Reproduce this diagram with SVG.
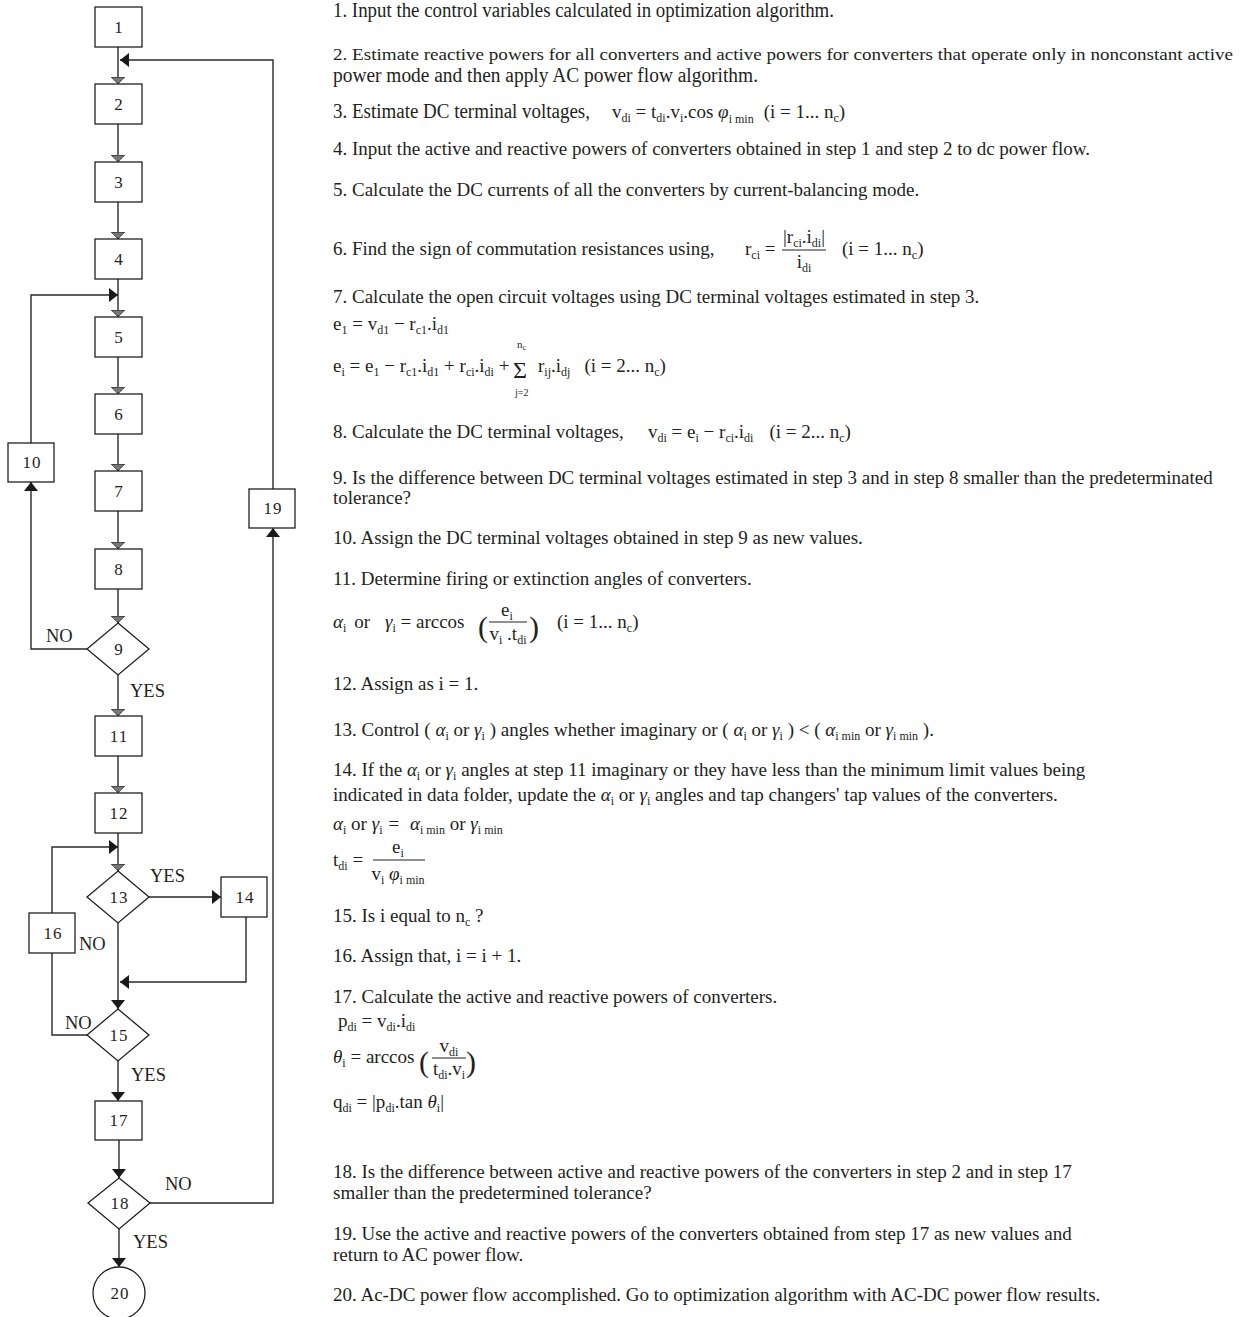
<svg xmlns="http://www.w3.org/2000/svg" width="1244" height="1317" viewBox="0 0 1244 1317">
<style>
.t{font-family:"Liberation Serif","Times New Roman",serif;font-size:19px;fill:#231f20}
.c{font-size:20px}
.s{font-size:12px}
.i{font-style:italic}
.lb{font-family:"Liberation Serif","Times New Roman",serif;font-size:18.5px;fill:#231f20}
.n{font-family:"Liberation Serif","Times New Roman",serif;font-size:17px;fill:#231f20;text-anchor:middle;letter-spacing:1px}
.box{fill:#fff;stroke:#231f20;stroke-width:1.3}
.ln{fill:none;stroke:#2a2a2a;stroke-width:1.4}
.bar{stroke:#231f20;stroke-width:1}
</style>
<defs>
<marker id="h" markerUnits="userSpaceOnUse" markerWidth="8" markerHeight="14" refX="7" refY="7" orient="auto">
<path d="M0,0 L7,7 L0,14 z" fill="#555" stroke="#333" stroke-width="0.6"/>
<path d="M2,2.5 V11.5 M4,4.5 V9.5" stroke="#bbb" stroke-width="0.7"/>
</marker>
<marker id="b" markerUnits="userSpaceOnUse" markerWidth="10" markerHeight="14" refX="9" refY="7" orient="auto">
<path d="M0,0 L9,7 L0,14 z" fill="#1a1a1a"/>
</marker>
</defs>
<rect width="1244" height="1317" fill="#fff"/>

<g id="connectors">
<path class="ln" d="M118,47 V84" marker-end="url(#h)"/>
<path class="ln" d="M273,489 V60 H120" marker-end="url(#b)"/>
<path class="ln" d="M118,124 V162" marker-end="url(#h)"/>
<path class="ln" d="M118,202 V239" marker-end="url(#h)"/>
<path class="ln" d="M118,279 V317" marker-end="url(#h)"/>
<path class="ln" d="M31,443 V295 H118" marker-end="url(#b)"/>
<path class="ln" d="M118,357 V394" marker-end="url(#h)"/>
<path class="ln" d="M118,434 V471" marker-end="url(#h)"/>
<path class="ln" d="M118,511 V549" marker-end="url(#h)"/>
<path class="ln" d="M118,589 V623" marker-end="url(#h)"/>
<path class="ln" d="M87,649 H31 V482" marker-end="url(#b)"/>
<path class="ln" d="M118,675 V716" marker-end="url(#h)"/>
<path class="ln" d="M118,756 V793" marker-end="url(#h)"/>
<path class="ln" d="M118,833 V871" marker-end="url(#h)"/>
<path class="ln" d="M52,913 V847 H118" marker-end="url(#b)"/>
<path class="ln" d="M149,897 H221" marker-end="url(#b)"/>
<path class="ln" d="M246,917 V982 H120" marker-end="url(#b)"/>
<path class="ln" d="M118,923 V1009" marker-end="url(#b)"/>
<path class="ln" d="M87,1035 H52 V953"/>
<path class="ln" d="M118,1061 V1101" marker-end="url(#b)"/>
<path class="ln" d="M119,1140 V1178" marker-end="url(#b)"/>
<path class="ln" d="M150,1203 H273 V528" marker-end="url(#b)"/>
<path class="ln" d="M119,1229 V1267" marker-end="url(#b)"/>
<text class="lb" x="46" y="642">NO</text>
<text class="lb" x="130" y="697">YES</text>
<text class="lb" x="150" y="882">YES</text>
<text class="lb" x="79" y="950">NO</text>
<text class="lb" x="65" y="1029">NO</text>
<text class="lb" x="131" y="1081">YES</text>
<text class="lb" x="165" y="1190">NO</text>
<text class="lb" x="133" y="1248">YES</text>
</g>

<g id="n1"><rect class="box" x="95" y="7" width="47" height="40"/><text class="n" x="119" y="33">1</text></g>
<g id="n2"><rect class="box" x="95" y="84" width="47" height="40"/><text class="n" x="119" y="110">2</text></g>
<g id="n3"><rect class="box" x="95" y="162" width="47" height="40"/><text class="n" x="119" y="188">3</text></g>
<g id="n4"><rect class="box" x="95" y="239" width="47" height="40"/><text class="n" x="119" y="265">4</text></g>
<g id="n5"><rect class="box" x="95" y="317" width="47" height="40"/><text class="n" x="119" y="343">5</text></g>
<g id="n6"><rect class="box" x="95" y="394" width="47" height="40"/><text class="n" x="119" y="420">6</text></g>
<g id="n7"><rect class="box" x="95" y="471" width="47" height="40"/><text class="n" x="119" y="497">7</text></g>
<g id="n8"><rect class="box" x="95" y="549" width="47" height="40"/><text class="n" x="119" y="575">8</text></g>
<g id="n9"><path class="box" d="M118,623 L149,649 L118,675 L87,649 Z"/><text class="n" x="119" y="655">9</text></g>
<g id="n10"><rect class="box" x="8" y="443" width="46" height="39"/><text class="n" x="32" y="468">10</text></g>
<g id="n11"><rect class="box" x="95" y="716" width="47" height="40"/><text class="n" x="119" y="742">11</text></g>
<g id="n12"><rect class="box" x="95" y="793" width="47" height="40"/><text class="n" x="119" y="819">12</text></g>
<g id="n13"><path class="box" d="M118,871 L149,897 L118,923 L87,897 Z"/><text class="n" x="119" y="903">13</text></g>
<g id="n14"><rect class="box" x="221" y="877" width="46" height="40"/><text class="n" x="245" y="903">14</text></g>
<g id="n15"><path class="box" d="M118,1009 L149,1035 L118,1061 L87,1035 Z"/><text class="n" x="119" y="1041">15</text></g>
<g id="n16"><rect class="box" x="29" y="913" width="46" height="40"/><text class="n" x="53" y="939">16</text></g>
<g id="n17"><rect class="box" x="95" y="1101" width="47" height="39"/><text class="n" x="119" y="1126">17</text></g>
<g id="n18"><path class="box" d="M119,1178 L150,1203 L119,1229 L88,1203 Z"/><text class="n" x="120" y="1209">18</text></g>
<g id="n19"><rect class="box" x="249" y="489" width="46" height="39"/><text class="n" x="273" y="514">19</text></g>
<g id="n20"><circle class="box" cx="119" cy="1293" r="26"/><text class="n" x="120" y="1299">20</text></g>

<g id="steps">
<text class="t c" x="333" y="17" textLength="501" lengthAdjust="spacingAndGlyphs">1. Input the control variables calculated in optimization algorithm.</text>
<text class="t" x="333" y="60" style="font-size:17.5px" textLength="900" lengthAdjust="spacingAndGlyphs">2. Estimate reactive powers for all converters and active powers for converters that  operate only in nonconstant active</text>
<text class="t c" x="333" y="82" textLength="425" lengthAdjust="spacingAndGlyphs">power mode and then apply AC power flow algorithm.</text>
<text class="t c" x="333" y="118" textLength="257" lengthAdjust="spacingAndGlyphs">3. Estimate DC terminal voltages,</text>
<text class="t" x="612" y="118">v<tspan class="s" dy="4">di</tspan><tspan dy="-4"> = t</tspan><tspan class="s" dy="4">di</tspan><tspan dy="-4">.v</tspan><tspan class="s" dy="4">i</tspan><tspan dy="-4">.cos </tspan><tspan class="i">φ</tspan><tspan class="s" dy="5">i min</tspan><tspan dy="-5" dx="10">(i = 1... n</tspan><tspan class="s" dy="4">c</tspan><tspan dy="-4">)</tspan></text>

<text class="t" x="333" y="155">4. Input the active and reactive powers of converters obtained in step 1 and step 2 to dc power flow.</text>
<text class="t" x="333" y="196">5. Calculate the DC currents of all the converters by current-balancing mode.</text>

<text class="t" x="333" y="255">6. Find the sign of commutation resistances using,</text>
<text class="t" x="745" y="255">r<tspan class="s" dy="4">ci</tspan><tspan dy="-4"> =</tspan></text>
<text class="t" x="804" y="243" text-anchor="middle">|r<tspan class="s" dy="4">ci</tspan><tspan dy="-4">.i</tspan><tspan class="s" dy="4">di</tspan><tspan dy="-4">|</tspan></text>
<line class="bar" x1="782" y1="250" x2="826" y2="250"/>
<text class="t" x="804" y="268" text-anchor="middle">i<tspan class="s" dy="4">di</tspan></text>
<text class="t" x="842" y="255">(i = 1... n<tspan class="s" dy="4">c</tspan><tspan dy="-4">)</tspan></text>

<text class="t" x="333" y="303">7. Calculate the open circuit voltages using DC  terminal voltages estimated in step 3.</text>
<text class="t" x="333" y="330">e<tspan class="s" dy="4">1</tspan><tspan dy="-4"> = v</tspan><tspan class="s" dy="4">d1</tspan><tspan dy="-4"> − r</tspan><tspan class="s" dy="4">c1</tspan><tspan dy="-4">.i</tspan><tspan class="s" dy="4">d1</tspan></text>
<text class="t" x="333" y="372">e<tspan class="s" dy="4">i</tspan><tspan dy="-4"> = e</tspan><tspan class="s" dy="4">1</tspan><tspan dy="-4"> − r</tspan><tspan class="s" dy="4">c1</tspan><tspan dy="-4">.i</tspan><tspan class="s" dy="4">d1</tspan><tspan dy="-4"> + r</tspan><tspan class="s" dy="4">ci</tspan><tspan dy="-4">.i</tspan><tspan class="s" dy="4">di</tspan><tspan dy="-4"> +</tspan></text>
<text class="t" x="513" y="378" style="font-size:24px">Σ</text>
<text class="t" x="517" y="348" style="font-size:11px">n<tspan dy="2" style="font-size:8px">c</tspan></text>
<text class="t" x="515" y="396" style="font-size:10px">j=2</text>
<text class="t" x="538" y="372">r<tspan class="s" dy="4">ij</tspan><tspan dy="-4">.i</tspan><tspan class="s" dy="4">dj</tspan><tspan dy="-4" dx="14">(i = 2... n</tspan><tspan class="s" dy="4">c</tspan><tspan dy="-4">)</tspan></text>

<text class="t" x="333" y="438">8. Calculate the DC  terminal voltages,</text>
<text class="t" x="648" y="438">v<tspan class="s" dy="4">di</tspan><tspan dy="-4"> = e</tspan><tspan class="s" dy="4">i</tspan><tspan dy="-4"> − r</tspan><tspan class="s" dy="4">ci</tspan><tspan dy="-4">.i</tspan><tspan class="s" dy="4">di</tspan><tspan dy="-4" dx="16">(i = 2... n</tspan><tspan class="s" dy="4">c</tspan><tspan dy="-4">)</tspan></text>

<text class="t" x="333" y="484">9. Is the difference between DC  terminal voltages estimated in step 3 and in step 8 smaller than the predeterminated</text>
<text class="t" x="333" y="504">tolerance?</text>
<text class="t" x="333" y="544">10. Assign the DC  terminal voltages obtained in step 9 as new values.</text>
<text class="t" x="333" y="585">11. Determine firing or extinction angles of converters.</text>

<text class="t" x="333" y="628"><tspan class="i">α</tspan><tspan class="s" dy="4">i</tspan><tspan dy="-4" dx="8">or </tspan><tspan class="i" dx="10">γ</tspan><tspan class="s" dy="4">i</tspan><tspan dy="-4"> = arccos</tspan></text>
<text class="t" x="478" y="637" style="font-size:30px">(</text>
<text class="t" x="507" y="616" text-anchor="middle">e<tspan class="s" dy="4">i</tspan></text>
<line class="bar" x1="489" y1="622" x2="527" y2="622"/>
<text class="t" x="508" y="640" text-anchor="middle">v<tspan class="s" dy="4">i</tspan><tspan dy="-4"> .t</tspan><tspan class="s" dy="4">di</tspan></text>
<text class="t" x="529" y="637" style="font-size:30px">)</text>
<text class="t" x="557" y="628">(i = 1... n<tspan class="s" dy="4">c</tspan><tspan dy="-4">)</tspan></text>

<text class="t" x="333" y="690">12. Assign as  i = 1.</text>

<text class="t" x="333" y="736">13. Control ( <tspan class="i">α</tspan><tspan class="s" dy="4">i</tspan><tspan dy="-4"> or </tspan><tspan class="i">γ</tspan><tspan class="s" dy="4">i</tspan><tspan dy="-4"> )  angles whether imaginary  or ( </tspan><tspan class="i">α</tspan><tspan class="s" dy="4">i</tspan><tspan dy="-4"> or </tspan><tspan class="i">γ</tspan><tspan class="s" dy="4">i</tspan><tspan dy="-4"> ) &lt; ( </tspan><tspan class="i">α</tspan><tspan class="s" dy="4">i min</tspan><tspan dy="-4"> or </tspan><tspan class="i">γ</tspan><tspan class="s" dy="4">i min</tspan><tspan dy="-4"> ).</tspan></text>
<text class="t" x="333" y="776">14. If the <tspan class="i">α</tspan><tspan class="s" dy="4">i</tspan><tspan dy="-4"> or </tspan><tspan class="i">γ</tspan><tspan class="s" dy="4">i</tspan><tspan dy="-4"> angles at step 11 imaginary or they have less than the minimum limit values being</tspan></text>
<text class="t" x="333" y="801">indicated in data folder, update the <tspan class="i">α</tspan><tspan class="s" dy="4">i</tspan><tspan dy="-4"> or </tspan><tspan class="i">γ</tspan><tspan class="s" dy="4">i</tspan><tspan dy="-4"> angles and tap changers' tap values of the converters.</tspan></text>
<text class="t" x="333" y="830"><tspan class="i">α</tspan><tspan class="s" dy="4">i</tspan><tspan dy="-4"> or </tspan><tspan class="i">γ</tspan><tspan class="s" dy="4">i</tspan><tspan dy="-4" dx="6">= </tspan><tspan class="i" dx="6">α</tspan><tspan class="s" dy="4">i min</tspan><tspan dy="-4"> or </tspan><tspan class="i">γ</tspan><tspan class="s" dy="4">i min</tspan></text>
<text class="t" x="333" y="866">t<tspan class="s" dy="4">di</tspan><tspan dy="-4"> =</tspan></text>
<text class="t" x="398" y="853" text-anchor="middle">e<tspan class="s" dy="4">i</tspan></text>
<line class="bar" x1="373" y1="860" x2="425" y2="860"/>
<text class="t" x="398" y="880" text-anchor="middle">v<tspan class="s" dy="4">i</tspan><tspan dy="-4" class="i"> φ</tspan><tspan class="s" dy="4">i min</tspan></text>

<text class="t" x="333" y="922">15. Is  i  equal to  n<tspan class="s" dy="4">c</tspan><tspan dy="-4"> ?</tspan></text>
<text class="t" x="333" y="962">16. Assign that,  i = i + 1.</text>
<text class="t" x="333" y="1003">17.  Calculate the active and reactive powers of converters.</text>
<text class="t" x="338" y="1027">p<tspan class="s" dy="4">di</tspan><tspan dy="-4"> = v</tspan><tspan class="s" dy="4">di</tspan><tspan dy="-4">.i</tspan><tspan class="s" dy="4">di</tspan></text>
<text class="t" x="333" y="1063"><tspan class="i">θ</tspan><tspan class="s" dy="4">i</tspan><tspan dy="-4"> = arccos</tspan></text>
<text class="t" x="419" y="1072" style="font-size:30px">(</text>
<text class="t" x="449" y="1052" text-anchor="middle">v<tspan class="s" dy="4">di</tspan></text>
<line class="bar" x1="432" y1="1058" x2="466" y2="1058"/>
<text class="t" x="449" y="1075" text-anchor="middle">t<tspan class="s" dy="4">di</tspan><tspan dy="-4">.v</tspan><tspan class="s" dy="4">i</tspan></text>
<text class="t" x="466" y="1072" style="font-size:30px">)</text>
<text class="t" x="333" y="1108">q<tspan class="s" dy="4">di</tspan><tspan dy="-4"> = |p</tspan><tspan class="s" dy="4">di</tspan><tspan dy="-4">.tan </tspan><tspan class="i">θ</tspan><tspan class="s" dy="4">i</tspan><tspan dy="-4">|</tspan></text>

<text class="t" x="333" y="1178">18. Is the difference between active and reactive powers of the converters in step 2 and in step 17</text>
<text class="t" x="333" y="1199">smaller than the predetermined tolerance?</text>
<text class="t" x="333" y="1240">19. Use the active and reactive powers of the converters obtained from step 17 as new values and</text>
<text class="t" x="333" y="1261">return to AC  power flow.</text>
<text class="t" x="333" y="1301">20. Ac-DC power flow accomplished. Go to optimization algorithm with AC-DC power flow results.</text>
</g>
</svg>
